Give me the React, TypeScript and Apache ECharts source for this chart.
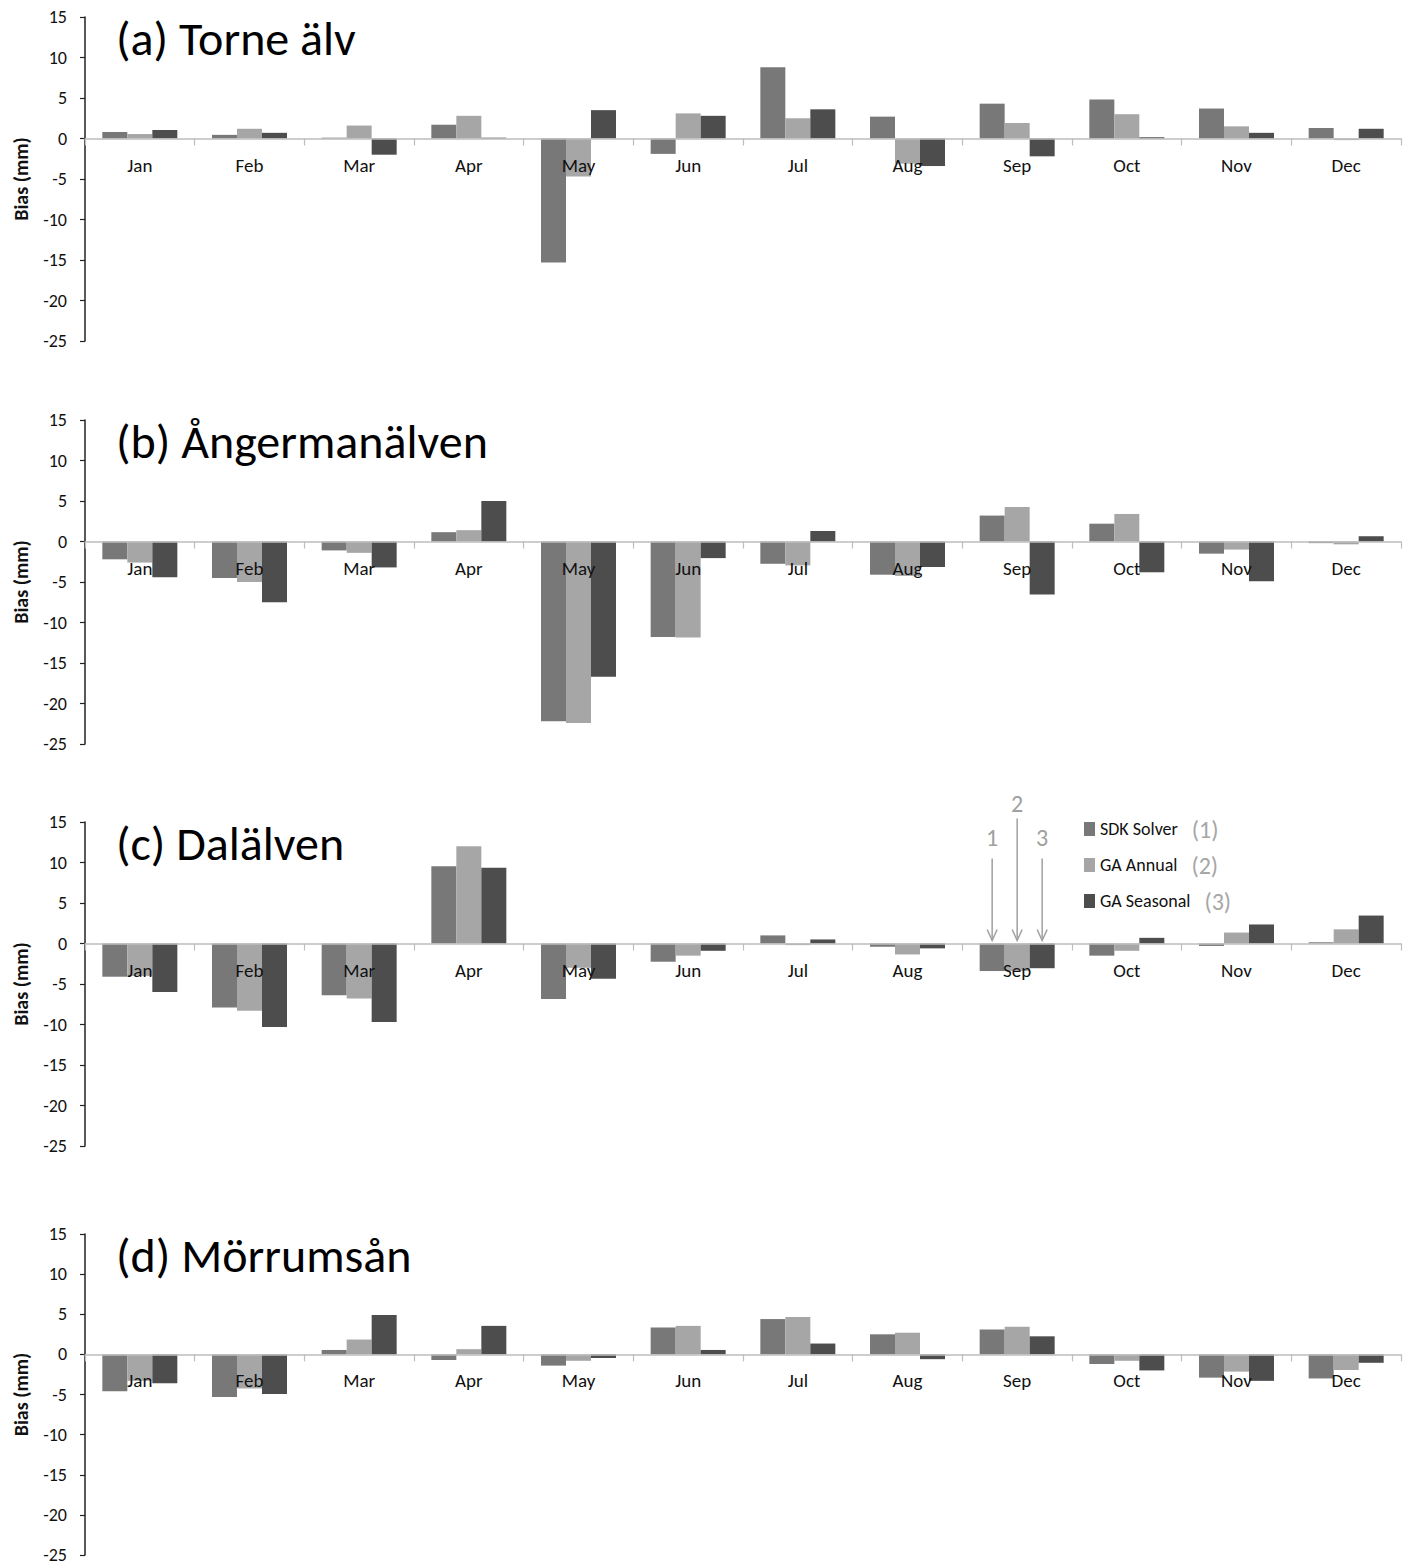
import React, { useEffect, useRef } from 'react';
import * as echarts from 'echarts';

const months = ['Jan', 'Feb', 'Mar', 'Apr', 'May', 'Jun', 'Jul', 'Aug', 'Sep', 'Oct', 'Nov', 'Dec'];
const panelTitles = ['(a) Torne älv', '(b) Ångermanälven', '(c) Dalälven', '(d) Mörrumsån'];
const seriesNames = ['SDK Solver', 'GA Annual', 'GA Seasonal'];
const seriesNumbers = ['(1)', '(2)', '(3)'];
const seriesColors = ['#787878', '#a6a6a6', '#4d4d4d'];
const yMin = -25;
const yMax = 15;
const yStep = 5;

const torneSDK = [0.8, 0.45, 0.1, 1.7, -15.3, -1.9, 8.8, 2.7, 4.3, 4.8, 3.7, 1.3];
const torneGAAnnual = [0.55, 1.2, 1.6, 2.8, -4.7, 3.1, 2.5, -3.1, 1.9, 3.0, 1.5, -0.2];
const torneGASeasonal = [1.05, 0.7, -2.0, 0.1, 3.5, 2.8, 3.6, -3.4, -2.2, 0.15, 0.7, 1.2];

const angerSDK = [-2.2, -4.5, -1.1, 1.15, -22.2, -11.8, -2.75, -4.1, 3.2, 2.2, -1.5, -0.2];
const angerGAAnnual = [-2.6, -5.0, -1.4, 1.4, -22.4, -11.85, -2.95, -4.25, 4.25, 3.4, -1.0, -0.35];
const angerGASeasonal = [-4.4, -7.5, -3.2, 5.0, -16.7, -2.05, 1.3, -3.15, -6.55, -3.8, -4.9, 0.65];

const dalSDK = [-4.1, -7.9, -6.4, 9.55, -6.85, -2.25, 1.0, -0.4, -3.4, -1.5, -0.3, 0.15];
const dalGAAnnual = [-4.0, -8.3, -6.8, 12.0, -3.0, -1.5, -0.2, -1.35, -3.4, -0.9, 1.35, 1.75];
const dalGASeasonal = [-6.0, -10.3, -9.7, 9.35, -4.35, -0.9, 0.5, -0.6, -3.05, 0.7, 2.35, 3.45];

const morSDK = [-4.6, -5.3, 0.55, -0.7, -1.4, 3.35, 4.4, 2.5, 3.1, -1.2, -2.9, -3.0];
const morGAAnnual = [-3.3, -4.25, 1.85, 0.65, -0.8, 3.55, 4.65, 2.7, 3.45, -0.8, -2.15, -1.95];
const morGASeasonal = [-3.6, -4.95, 4.9, 3.55, -0.45, 0.55, 1.35, -0.6, 2.25, -2.0, -3.3, -1.05];

const panels = [
  [torneSDK, torneGAAnnual, torneGASeasonal],
  [angerSDK, angerGAAnnual, angerGASeasonal],
  [dalSDK, dalGAAnnual, dalGASeasonal],
  [morSDK, morGAAnnual, morGASeasonal],
];

const FONT = 'Carlito, Lato, "Open Sans", sans-serif';
const gridTops = [17, 420, 822, 1234];
const gridHeights = [324, 324, 324, 321];
const gridLeft = 85;
const gridWidth = 1316;

export default function App() {
  const ref = useRef<HTMLDivElement>(null);

  useEffect(() => {
    if (!ref.current) return;
    const chart = echarts.init(ref.current, undefined, { renderer: 'svg' });

    const grids = gridTops.map((t, i) => ({ left: gridLeft, top: t, width: gridWidth, height: gridHeights[i] }));
    const xAxes = gridTops.map((_, i) => ({
      gridIndex: i,
      type: 'category',
      position: 'bottom',
      // x axis sits on the zero line of the value scale
      offset: -(gridHeights[i] * (0 - yMin)) / (yMax - yMin),
      data: months,
      z: 5,
      axisLine: { onZero: false, lineStyle: { color: '#bdbdbd', width: 1.5 } },
      axisTick: { show: true, length: 7, lineStyle: { color: '#bdbdbd', width: 1.2 } },
      axisLabel: { fontSize: 19, color: '#111', margin: 17, fontFamily: FONT },
    }));
    const yAxes = gridTops.map((_, i) => ({
      gridIndex: i,
      type: 'value',
      min: yMin,
      max: yMax,
      interval: yStep,
      axisLine: { show: true, onZero: false, lineStyle: { color: '#222', width: 1.5 } },
      axisTick: { show: true, length: 5, lineStyle: { color: '#222', width: 1.2 } },
      splitLine: { show: false },
      axisLabel: { fontSize: 18, color: '#111', margin: 18, fontFamily: FONT },
      name: 'Bias (mm)',
      nameLocation: 'middle',
      nameGap: 54,
      nameTextStyle: { fontWeight: 'bold', fontSize: 20, color: '#111', fontFamily: FONT },
    }));
    const series: any[] = [];
    panels.forEach((p, i) => {
      p.forEach((vals, k) => {
        series.push({
          name: seriesNames[k],
          type: 'bar',
          xAxisIndex: i,
          yAxisIndex: i,
          data: vals,
          barWidth: 25,
          barGap: '0%',
          itemStyle: { color: seriesColors[k] },
        });
      });
    });
    const titles = panelTitles.map((t, i) => ({
      text: t,
      left: 111,
      top: gridTops[i] - 8,
      textStyle: { fontSize: 48, fontWeight: 'normal', color: '#000', fontFamily: FONT },
    }));

    chart.setOption({
      animation: false,
      backgroundColor: '#fff',
      title: titles,
      grid: grids,
      xAxis: xAxes,
      yAxis: yAxes,
      series,
      legend: {
        data: seriesNames,
        orient: 'vertical',
        left: 1079,
        top: 812,
        itemWidth: 11,
        itemHeight: 14,
        itemGap: 12,
        icon: 'rect',
        formatter: (name: string) => {
          const idx = seriesNames.indexOf(name);
          return `{a|${name}}{b|${seriesNumbers[idx]}}`;
        },
        textStyle: {
          fontFamily: FONT,
          rich: {
            a: { fontSize: 18, color: '#111', fontFamily: FONT, padding: [0, 14, 0, 0] },
            b: { fontSize: 24, color: '#a6a6a6', fontFamily: FONT },
          },
        },
      },
    });

    // Arrow annotations pointing at September bars in panel (c)
    const [sepX, zeroY] = chart.convertToPixel({ gridIndex: 2 }, ['Sep', 0]) as number[];
    const offsets = [-25, 0, 25];
    const topOffsets = [85, 125, 85];
    const labelOffsets = [106, 140, 106];
    const grey = '#a0a0a0';
    const graphics: any[] = [];
    offsets.forEach((dx, k) => {
      const x = sepX + dx;
      const tipY = zeroY - 3;
      graphics.push({
        type: 'line',
        shape: { x1: x, y1: zeroY - topOffsets[k], x2: x, y2: tipY },
        style: { stroke: grey, lineWidth: 1.5 },
        z: 10,
      });
      graphics.push({
        type: 'polyline',
        shape: { points: [[x - 5, tipY - 11], [x, tipY], [x + 5, tipY - 11]] },
        style: { stroke: grey, lineWidth: 1.5, fill: null },
        z: 10,
      });
      graphics.push({
        type: 'text',
        x,
        y: zeroY - labelOffsets[k],
        style: {
          text: String(k + 1),
          fontSize: 24,
          fill: grey,
          fontFamily: FONT,
          align: 'center',
          verticalAlign: 'middle',
        },
        z: 10,
      });
    });
    chart.setOption({ graphic: graphics });

    return () => chart.dispose();
  }, []);

  return (
    <div
      ref={ref}
      style={{ position: 'absolute', left: 0, top: 0, width: 1411, height: 1566 }}
    />
  );
}
